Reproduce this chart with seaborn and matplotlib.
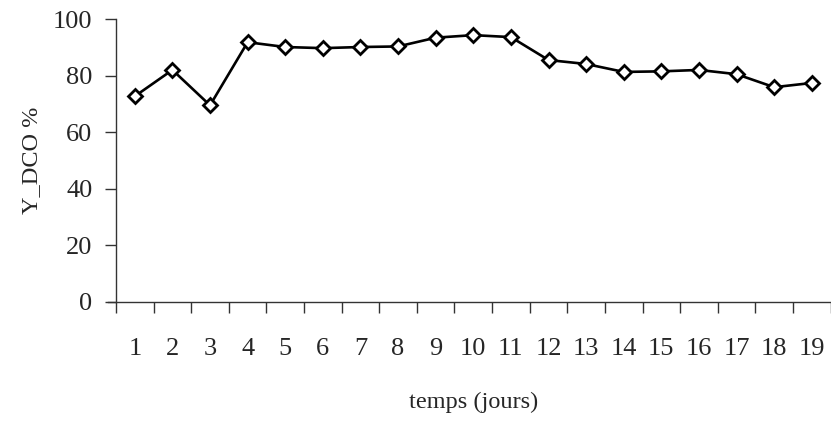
import pandas as pd
import matplotlib
matplotlib.use('Agg')
import matplotlib.pyplot as plt
from matplotlib.ticker import FixedLocator, NullFormatter
import seaborn as sns

sns.set_style('ticks')
plt.rcParams['font.family'] = ['Liberation Serif', 'DejaVu Serif']

# data
jours = list(range(1, 20))
y_dco = [72.7, 82.0, 69.5, 91.8, 90.1, 89.7, 90.1, 90.3, 93.4, 94.3,
         93.6, 85.5, 84.1, 81.3, 81.5, 82.0, 80.5, 75.9, 77.4]

df = pd.DataFrame({'pos': range(len(jours)), 'jour': jours, 'y': y_dco})

fig = plt.figure(figsize=(8.31, 4.21), dpi=100)
ax = fig.add_axes([116/831, 1 - 302/421, 714.6/831, 283/421])

sns.lineplot(data=df, x='pos', y='y', ax=ax, color='black', linewidth=1.9,
             marker='D', markersize=7.5, markerfacecolor='white',
             markeredgecolor='black', markeredgewidth=2)

ax.set_xlim(-0.5, len(jours) - 0.5)
ax.set_ylim(0, 100)
ax.set_yticks([0, 20, 40, 60, 80, 100])

# labels at category centres, tick marks at category boundaries
ax.set_xticks(df['pos'])
ax.set_xticklabels([str(j) for j in jours])
ax.xaxis.set_minor_locator(FixedLocator([p - 0.5 for p in range(len(jours) + 1)]))
ax.xaxis.set_minor_formatter(NullFormatter())
ax.tick_params(axis='x', which='major', length=0, pad=26, labelsize=19)
ax.tick_params(axis='x', which='minor', length=8, width=1, color='#333333')
ax.tick_params(axis='y', length=8, width=1, color='#333333', pad=9, labelsize=19)

sns.despine(ax=ax)
for side in ['left', 'bottom']:
    ax.spines[side].set_color('#333333')
    ax.spines[side].set_linewidth(1)
ax.spines['bottom'].set_bounds(-0.5 - 8/37.6, len(jours) - 0.5)

ax.set_xlabel('temps (jours)', fontsize=17.5, labelpad=23)
ax.set_ylabel('Y_DCO %', fontsize=17.5, labelpad=8)

fig.savefig('out.png', dpi=100)
